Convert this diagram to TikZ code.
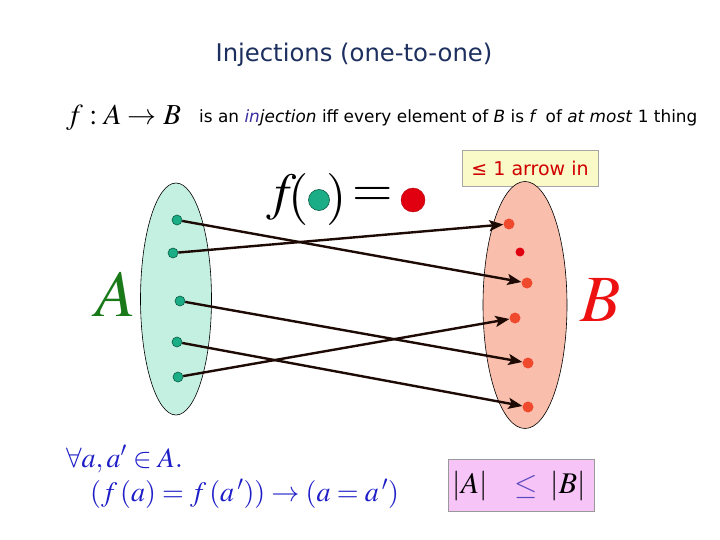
\documentclass[tikz,border=0pt]{standalone}
\usepackage{mathptmx}
\usepackage{fontspec}
\usetikzlibrary{arrows.meta,shapes.geometric}
\newfontfamily\comic{DejaVu Sans}
\definecolor{titlenavy}{HTML}{1C2F5E}
\definecolor{inblue}{HTML}{3A2FA0}
\definecolor{setAfill}{HTML}{C4F0E2}
\definecolor{setBfill}{HTML}{F9BEAC}
\definecolor{gdot}{HTML}{1BAE86}
\definecolor{gdotline}{HTML}{0B5A42}
\definecolor{rdot}{HTML}{F04A2E}
\definecolor{rdark}{HTML}{E00010}
\definecolor{letterA}{HTML}{1A7A1A}
\definecolor{letterB}{HTML}{EE1111}
\definecolor{formblue}{HTML}{1E1EC8}
\definecolor{notefill}{HTML}{FAFAC8}
\definecolor{notered}{HTML}{D00000}
\definecolor{pinkfill}{HTML}{F6C4F6}
\definecolor{leqpurple}{HTML}{5A48C0}
\definecolor{arrowdark}{HTML}{1E0A04}
\tikzset{
  gd/.style={circle,draw=gdotline,fill=gdot,line width=0.6pt,minimum size=10pt,inner sep=0pt},
  rd/.style={circle,fill=rdot,minimum size=11pt,inner sep=0pt},
  mapto/.style={draw=arrowdark,line width=2.4pt,-{Stealth[length=14pt,width=11pt,inset=3pt]}},
  setshape/.style={draw=black,line width=0.6pt},
  notebox/.style={draw=gray!70,fill=notefill,line width=0.6pt},
}
\begin{document}
\begin{tikzpicture}[x=1pt,y=-1pt]
\useasboundingbox[fill=white] (0,0) rectangle (720,540);
% title
\node[text=titlenavy,font=\comic\fontsize{24.3}{27}\selectfont] (title) at (354,55) {Injections (one-to-one)};
% definition line
\node[anchor=base west,inner sep=0pt,font=\fontsize{29}{31}\selectfont] (fdef) at (66,125) {$f:A\rightarrow B$};
\node[anchor=base west,inner sep=0pt,font=\comic\fontsize{16.9}{19}\selectfont] (deftext) at (199,123)
  {is an \textit{\textcolor{inblue}{in}jection} iff every element of \textit{B} is \textit{f}\, of \textit{at most} 1 thing};
% note box
\node[notebox,minimum width=136pt,minimum height=36pt,inner sep=0pt,font=\comic\fontsize{19}{21}\selectfont,text=notered] (note) at (530,168) {≤ 1 arrow in};
% sets
\node[setshape,fill=setAfill,ellipse,minimum width=71pt,minimum height=232pt,inner sep=0pt] (setA) at (176,299) {};
\node[setshape,fill=setBfill,ellipse,minimum width=84pt,minimum height=247pt,inner sep=0pt] (setB) at (525,305) {};
% f(.) = .
\node[font=\fontsize{52}{56}\selectfont] (fbig) at (282,197) {$f$};
\node[font=\fontsize{52}{56}\selectfont] (lpar) at (299,200) {$($};
\node[gd,minimum size=21pt] (gbig) at (319,200) {};
\node[font=\fontsize{52}{56}\selectfont] (rpar) at (337,200) {$)$};
\node[font=\fontsize{52}{56}\selectfont] (eq) at (373,197) {$=$};
\node[circle,fill=rdark,draw=rdark!80!black,line width=0.4pt,minimum size=24pt,inner sep=0pt] (rbig) at (413,200) {};
% big letters
\node[text=letterA,font=\fontsize{66}{70}\selectfont] (labA) at (116,294) {$A$};
\node[text=letterB,font=\fontsize{66}{70}\selectfont] (labB) at (601,300) {$B$};
% dots in A
\node[gd] (a1) at (177,220) {};
\node[gd] (a2) at (173,253) {};
\node[gd] (a3) at (180,301) {};
\node[gd] (a4) at (177,342) {};
\node[gd] (a5) at (178,377) {};
% dots in B
\node[rd] (b1) at (509,224) {};
\node[circle,fill=rdark,minimum size=9pt,inner sep=0pt] (b2) at (520,252) {};
\node[rd] (b3) at (527,283) {};
\node[rd] (b4) at (515,318) {};
\node[rd] (b5) at (528,363) {};
\node[rd] (b6) at (528,407) {};
% arrows
\draw[mapto] (a1) -- (b3);
\draw[mapto] (a2) -- (b1);
\draw[mapto] (a3) -- (b5);
\draw[mapto] (a4) -- (b6);
\draw[mapto] (a5) -- (b4);
% bottom formulas
\node[anchor=base west,inner sep=0pt,text=formblue,font=\fontsize{28}{30}\selectfont] (forall) at (66,467) {$\forall a, a' \in A.$};
\node[anchor=base west,inner sep=0pt,text=formblue,font=\fontsize{28}{30}\selectfont] (impl) at (90,501) {$(f\,(a) = f\,(a\,')) \rightarrow (a = a\,')$};
% cardinality box
\node[draw=gray!80,fill=pinkfill,line width=0.8pt,minimum width=146pt,minimum height=52pt,inner sep=0pt] (card) at (521,485) {};
\node[font=\fontsize{30}{32}\selectfont] (cA) at (470,486) {$|A|$};
\node[text=leqpurple,font=\fontsize{30}{32}\selectfont] (cle) at (526,487) {$\leq$};
\node[font=\fontsize{30}{32}\selectfont] (cB) at (568,486) {$|B|$};
\end{tikzpicture}
\end{document}
